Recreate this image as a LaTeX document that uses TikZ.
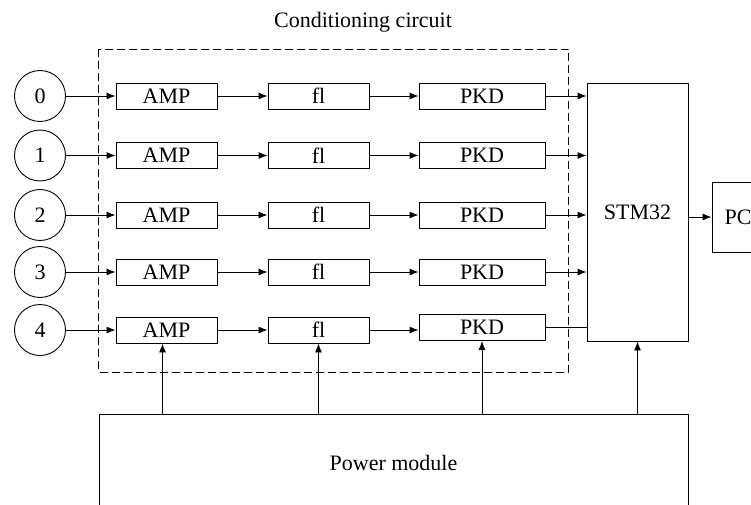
\documentclass[tikz,border=0pt]{standalone}
\usepackage{fontspec}
\setmainfont{Liberation Serif}
\usetikzlibrary{arrows.meta,calc}
\tikzset{
  blk/.style={draw, line width=0.9pt, minimum width=101pt, minimum height=26pt, inner sep=0pt, anchor=center},
  pkdblk/.style={blk, minimum width=126pt},
  src/.style={draw, circle, minimum size=51pt, inner sep=0pt, line width=0.9pt},
  arr/.style={line width=0.9pt, -{Latex[length=9pt,width=7pt]}},
  ln/.style={line width=0.9pt},
  grp/.style={line width=0.8pt, dash pattern=on 8pt off 4pt}
}
\begin{document}
\begin{tikzpicture}[x=1pt, y=-1pt, font=\fontsize{22}{26}\selectfont]
\useasboundingbox (0,0) rectangle (751,505);
\clip (0,0) rectangle (751,505);

\node (title) at (363,22) {Conditioning circuit};
\draw[grp] (98.5,49) rectangle (568.5,372);

\foreach \i/\y in {0/96,1/155.5,2/215,3/272,4/330} {
  \node[src] (c\i) at (40,\y) {\i};
  \node[blk] (amp\i) at (166.5,\y) {AMP};
  \node[blk] (fl\i) at (318.5,\y) {fl};
}
\foreach \i/\y in {0/96,1/155.5,2/215,3/272,4/327.5} {
  \node[pkdblk] (pkd\i) at (482,\y) {PKD};
}

\node[draw, line width=0.9pt, minimum width=101pt, minimum height=258pt, inner sep=0pt] (stm) at (637.5,212) {};
\node at (stm.center) {STM32};
\node[draw, line width=0.9pt, minimum width=52pt, minimum height=70pt, inner sep=0pt] (pc) at (738,217) {PC};
\node[draw, line width=0.9pt, minimum width=589pt, minimum height=98pt, inner sep=0pt] (pow) at (393.5,463) {Power module};

\foreach \i in {0,1,2,3,4} {
  \draw[arr] (c\i.east) -- (c\i.east -| amp\i.west);
  \draw[arr] (amp\i.east) -- (amp\i.east -| fl\i.west);
  \draw[arr] (fl\i.east) -- (fl\i.east -| pkd\i.west);
}
\foreach \i in {0,1,2,3} {
  \draw[arr] (pkd\i.east) -- (pkd\i.east -| stm.west);
}
\draw[ln] (pkd4.east) -- (pkd4.east -| stm.west);
\draw[arr] (pc.west -| stm.east) -- (pc.west);

\draw[arr] (pow.north -| 162.5,0) -- ([xshift=-4pt]amp4.south);
\draw[arr] (pow.north -| fl4.south) -- (fl4.south);
\draw[arr] (pow.north -| pkd4.south) -- (pkd4.south);
\draw[arr] (pow.north -| stm.south) -- (stm.south);
\end{tikzpicture}
\end{document}
